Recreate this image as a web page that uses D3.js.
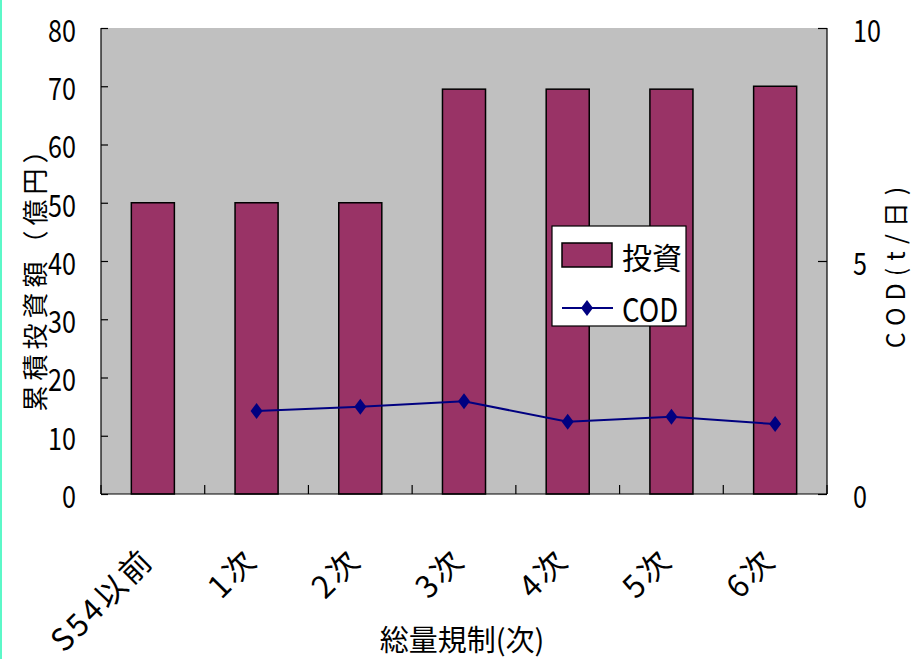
<!DOCTYPE html>
<html>
<head>
<meta charset="utf-8">
<script src="https://cdn.jsdelivr.net/npm/d3@7/dist/d3.min.js"></script>
<style>
  html, body { margin: 0; padding: 0; background: #ffffff; }
  svg { display: block; }
  text { font-family: "Noto Sans CJK JP", "Noto Sans", sans-serif; fill: #000; }
</style>
</head>
<body>
<svg id="chart" width="913" height="659"></svg>
<script>
// Cumulative investment (億円) and COD (t/日) per total-load regulation phase
const categories = ["S54以前", "1次", "2次", "3次", "4次", "5次", "6次"];
const investment = [50, 50, 50, 69.5, 69.5, 69.5, 70];
const cod = [null, 1.78, 1.87, 1.99, 1.55, 1.66, 1.50];
const leftTicks = [0, 10, 20, 30, 40, 50, 60, 70, 80];
const rightTicks = [0, 5, 10];

const svg = d3.select("#chart");
const W = 913, H = 659;
const plot = { left: 101, right: 827, top: 28, bottom: 494 };

// thin accent strip at the left edge of the page
svg.append("rect").attr("x", 0).attr("y", 0).attr("width", 2).attr("height", H).attr("fill", "#5cf8c8");

const x = d3.scaleBand().domain(categories).range([plot.left, plot.right])
  .paddingInner(0.585).paddingOuter(0.2925);
const step = x.step();
const yL = d3.scaleLinear().domain([0, 80]).range([plot.bottom, plot.top]);
const yR = d3.scaleLinear().domain([0, 10]).range([plot.bottom, plot.top]);

// plot area background
svg.append("rect")
  .attr("x", plot.left).attr("y", plot.top)
  .attr("width", plot.right - plot.left).attr("height", plot.bottom - plot.top)
  .attr("fill", "#c0c0c0");

// bars
svg.append("g").selectAll("rect").data(investment).join("rect")
  .attr("x", (d, i) => x(categories[i]))
  .attr("y", d => yL(d))
  .attr("width", x.bandwidth())
  .attr("height", d => yL(0) - yL(d))
  .attr("fill", "#993366")
  .attr("stroke", "#000").attr("stroke-width", 1.5);

// left axis (ticks pointing inward)
const axL = svg.append("g").attr("transform", `translate(${plot.left},0)`)
  .call(d3.axisRight(yL).tickValues(leftTicks).tickSize(7).tickFormat(""));
axL.select(".domain").attr("stroke", "#000").attr("stroke-width", 1.2).attr("d", `M0,${plot.top}V${plot.bottom}`);
axL.selectAll(".tick line").attr("stroke", "#000").attr("stroke-width", 1.2);
svg.append("g").selectAll("text").data(leftTicks).join("text")
  .attr("transform", d => `translate(76,${yL(d)}) scale(0.9,1.12)`)
  .attr("text-anchor", "end").attr("dominant-baseline", "central")
  .attr("font-size", 28)
  .text(d => d);

// right axis (ticks pointing inward)
const axR = svg.append("g").attr("transform", `translate(${plot.right},0)`)
  .call(d3.axisLeft(yR).tickValues(rightTicks).tickSize(9).tickFormat(""));
axR.select(".domain").attr("stroke", "#000").attr("stroke-width", 1.2).attr("d", `M0,${plot.top}V${plot.bottom}`);
axR.selectAll(".tick line").attr("stroke", "#000").attr("stroke-width", 1.2);
svg.append("g").selectAll("text").data(rightTicks).join("text")
  .attr("transform", d => `translate(853,${yR(d)}) scale(0.9,1.12)`)
  .attr("text-anchor", "start").attr("dominant-baseline", "central")
  .attr("font-size", 28)
  .text(d => d);

// bottom axis with ticks at category boundaries
const bottomG = svg.append("g");
bottomG.append("line")
  .attr("x1", plot.left).attr("x2", plot.right)
  .attr("y1", plot.bottom).attr("y2", plot.bottom)
  .attr("stroke", "#000").attr("stroke-width", 1.2);
bottomG.selectAll("line.tk").data(d3.range(categories.length + 1)).join("line")
  .attr("class", "tk")
  .attr("x1", i => plot.left + i * step).attr("x2", i => plot.left + i * step)
  .attr("y1", plot.bottom).attr("y2", plot.bottom - 9)
  .attr("stroke", "#000").attr("stroke-width", 1.2);

// category labels, rotated
svg.append("g").selectAll("text").data(categories).join("text")
  .attr("transform", d => `translate(${x(d) + x.bandwidth() / 2 + 3},562) rotate(-45)`)
  .attr("text-anchor", "end")
  .attr("font-size", 31).attr("letter-spacing", 3)
  .text(d => d);

// COD line
const pts = cod.map((v, i) => ({ c: categories[i], v })).filter(p => p.v != null);
const cx = c => x(c) + x.bandwidth() / 2;
svg.append("path")
  .datum(pts)
  .attr("fill", "none").attr("stroke", "#000080").attr("stroke-width", 2)
  .attr("d", d3.line().x(p => cx(p.c)).y(p => yR(p.v)));
const diamond = "M0,-8L6,0L0,8L-6,0Z";
svg.append("g").selectAll("path").data(pts).join("path")
  .attr("transform", p => `translate(${cx(p.c)},${yR(p.v)})`)
  .attr("d", diamond).attr("fill", "#000080");

// axis titles
svg.append("text")
  .attr("transform", `translate(33,272) rotate(-90)`)
  .attr("text-anchor", "middle").attr("dominant-baseline", "central")
  .attr("font-size", 26).attr("letter-spacing", 5)
  .text("累積投資額（億円）");
svg.append("text")
  .attr("transform", `translate(894,264) rotate(-90)`)
  .attr("text-anchor", "middle").attr("dominant-baseline", "central")
  .attr("font-size", 25).attr("letter-spacing", 7)
  .text("COD(t/日)");
svg.append("text")
  .attr("x", 462).attr("y", 651)
  .attr("text-anchor", "middle")
  .attr("font-size", 29)
  .text("総量規制(次)");

// legend
const lg = svg.append("g");
lg.append("rect").attr("x", 552).attr("y", 226).attr("width", 134).attr("height", 100)
  .attr("fill", "#fff").attr("stroke", "#000").attr("stroke-width", 1.2);
lg.append("rect").attr("x", 562).attr("y", 243).attr("width", 50).attr("height", 24)
  .attr("fill", "#993366").attr("stroke", "#000").attr("stroke-width", 1.5);
lg.append("text").attr("x", 622).attr("y", 256).attr("dominant-baseline", "central")
  .attr("font-size", 30).text("投資");
lg.append("line").attr("x1", 562).attr("x2", 613).attr("y1", 308).attr("y2", 308)
  .attr("stroke", "#000080").attr("stroke-width", 2);
lg.append("path").attr("transform", "translate(587,308)").attr("d", diamond).attr("fill", "#000080");
lg.append("text").attr("transform", "translate(622,308) scale(0.92,1.1)").attr("dominant-baseline", "central")
  .attr("font-size", 30).text("COD");
</script>
</body>
</html>
